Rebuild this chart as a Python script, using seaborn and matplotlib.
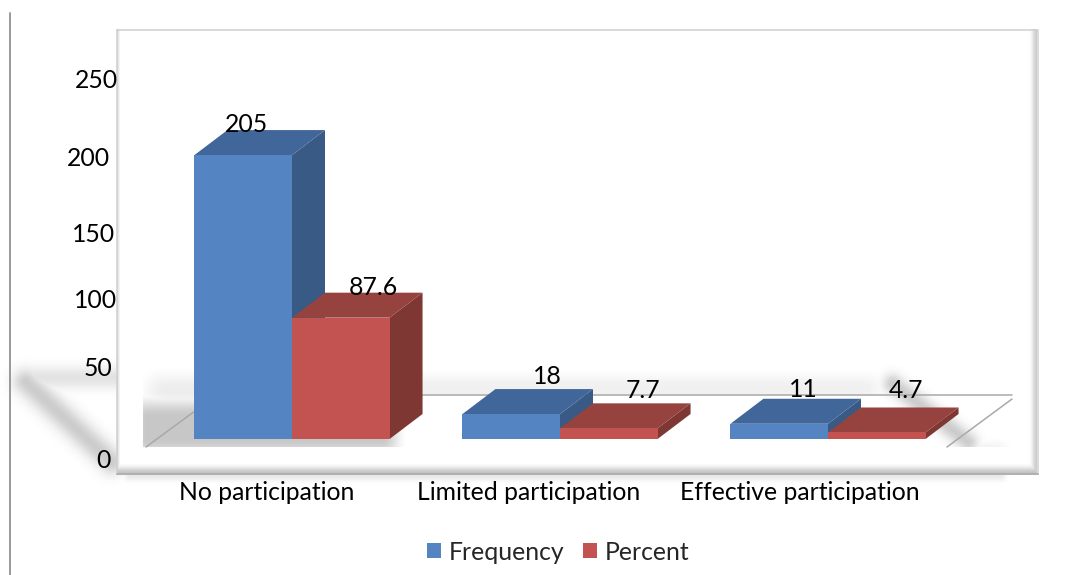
import numpy as np
import pandas as pd
import matplotlib
matplotlib.use("Agg")
import matplotlib.pyplot as plt
from matplotlib.patches import Polygon
from matplotlib.transforms import Affine2D
import seaborn as sns

# Survey results
categories = ["No participation", "Limited participation", "Effective participation"]
frequency = [205, 18, 11]
percent = [87.6, 7.7, 4.7]
series_names = ["Frequency", "Percent"]
y_tick_labels = ["250", "200", "150", "100", "50", "0"]

# Colours per series: front, top and side faces of each block
front_colors = ["#5484c1", "#c25351"]
top_colors = ["#41669a", "#96433f"]
side_colors = ["#385a84", "#7f3733"]

W, H = 1077, 575
ORIGIN_X, GROUP_STEP = 292.0, 268.0
BASE_Y, PX_PER_UNIT = 439.0, 1.385
DEPTH_X, DEPTH_Y = 33.0, 25.0
FONT_SIZE = 17.8

sns.set_theme(style="white")
plt.rcParams["font.family"] = ["Lato", "DejaVu Sans"]

df = pd.DataFrame({
    "category": categories * 2,
    "series": [series_names[0]] * 3 + [series_names[1]] * 3,
    "value": frequency + percent,
})

fig = plt.figure(figsize=(W / 100, H / 100), dpi=100, facecolor="white")
ax = fig.add_axes([0, 0, 1, 1])
sns.barplot(data=df, x="category", y="value", hue="series", order=categories,
            hue_order=series_names, palette=front_colors, saturation=1,
            width=0.728, gap=0, dodge=True, errorbar=None, linewidth=0, ax=ax)

xlim = (-ORIGIN_X / GROUP_STEP, (W - ORIGIN_X) / GROUP_STEP)
ylim = ((BASE_Y - H) / PX_PER_UNIT, BASE_Y / PX_PER_UNIT)

# Soft backdrop: frame bevel and the shadows thrown on and around it
yy, xx = np.mgrid[0:H, 0:W] + 0.5


def smooth(v, a, b):
    t = np.clip((v - a) / (b - a), 0, 1)
    return t * t * (3 - 2 * t)


def soft_segment(x0, y0, x1, y1, sigma, strength):
    dx, dy = x1 - x0, y1 - y0
    t = np.clip(((xx - x0) * dx + (yy - y0) * dy) / (dx * dx + dy * dy), 0, 1)
    d2 = (xx - x0 - t * dx) ** 2 + (yy - y0 - t * dy) ** 2
    return strength * np.exp(-d2 / (2 * sigma * sigma))


def soft_box(x0, x1, y0, y1, soft, strength):
    return (strength * smooth(xx, x0 - soft, x0 + soft) * (1 - smooth(xx, x1 - soft, x1 + soft))
            * smooth(yy, y0 - soft, y0 + soft) * (1 - smooth(yy, y1 - soft, y1 + soft)))


# Outside the frame
outer = np.maximum.reduce([
    soft_segment(26, 382, 112, 462, 9, 0.20),
    soft_segment(26, 378, 116, 378, 8, 0.11),
    soft_box(125, 1005, 470, 480, 5, 0.09),
])
inside = (xx > 117) & (xx < 1037) & (yy > 29) & (yy < 474)
plot_area = (xx > 143) & (xx < 1012) & (yy < 447.5)

# Inside the frame, limited to the plot wall and floor
above_floor = yy < 396
inner = np.maximum.reduce([
    soft_box(150, 880, 384, 394, 18, 0.12) * above_floor,
    soft_box(135, 395, 404, 452, 13, 0.22) * (yy < 447.5),
    soft_box(150, 400, 380, 400, 16, 0.09),
    soft_segment(893, 384, 968, 442, 7, 0.20) * (yy < 447.5),
    soft_box(960, 1005, 445, 455, 9, 0.07) * (yy < 447.5),
]) * plot_area
dark = np.where(inside, inner, outer)

# Bevel of the frame
bevel = np.maximum.reduce([
    0.24 * smooth(yy, 463, 474),
    0.20 * smooth(xx, 1029, 1037),
    0.14 * (1 - smooth(xx, 117, 121)),
])
dark = np.where(inside, np.maximum(dark, bevel), dark)

ax.imshow(1 - dark, cmap="gray", vmin=0, vmax=1, extent=(*xlim, *ylim),
          origin="upper", aspect="auto", interpolation="bilinear", zorder=0)
ax.set_xlim(*xlim)
ax.set_ylim(*ylim)
ax.axis("off")

# Pixel-based transform for the furniture around the plot
pix = Affine2D().scale(1, -1).translate(0, H)

# Page rule, frame outline, floor lines
ax.plot([10, 10], [13, 575], color="#919191", lw=1.3, transform=pix, zorder=1)
ax.plot([117, 1037.5, 1037.5, 117, 117], [29.5, 29.5, 474, 474, 29.5], color="#cfcfcf",
        lw=1.1, transform=pix, zorder=1)
ax.plot([117, 1037.5], [474, 474], color="#b0b0b0", lw=1.4, transform=pix, zorder=1)
ax.plot([390, 1012], [395, 395], color="#a9a9a9", lw=1.1, transform=pix, zorder=1)
ax.plot([146, 195], [447, 411], color="#a9a9a9", lw=1.1, transform=pix, zorder=1)
ax.plot([947, 1012], [447, 399], color="#a9a9a9", lw=1.1, transform=pix, zorder=1)

# Extrude each bar into a block: side and top faces come from the bar geometry
depth_x = DEPTH_X / GROUP_STEP
depth_y = DEPTH_Y / PX_PER_UNIT
bars = [c for container in ax.containers for c in container]
for i, bar in enumerate(bars):
    s = i // 3
    x0, x1 = bar.get_x(), bar.get_x() + bar.get_width()
    h = bar.get_height()
    z = 3 + s * 0.2
    ax.add_patch(Polygon([(x1, 0), (x1 + depth_x, depth_y), (x1 + depth_x, h + depth_y), (x1, h)],
                         closed=True, fc=side_colors[s], ec="none", zorder=z))
    ax.add_patch(Polygon([(x0, h), (x0 + depth_x, h + depth_y), (x1 + depth_x, h + depth_y), (x1, h)],
                         closed=True, fc=top_colors[s], ec="none", zorder=z))
    bar.set_edgecolor("none")
    bar.set_zorder(z + 0.1)

# Value labels, set above and behind each block (pixel offsets from the bar top)
label_offsets = [(3, 31), (36, 38), (24, 34), (33, 30), (34, 38), (29, 42)]
values = frequency + percent
for i, bar in enumerate(bars):
    dx, dy = label_offsets[i]
    ax.annotate(f"{values[i]:g}", xy=(bar.get_x() + bar.get_width() / 2, bar.get_height()),
                xytext=(dx * 0.72, dy * 0.72), textcoords="offset points", ha="center",
                va="center", fontsize=FONT_SIZE, color="black", zorder=6)

# Axis text
tick_positions = [(96, 81), (88, 158), (94, 234), (96, 300), (98, 369), (103, 460)]
for label, (x, y) in zip(y_tick_labels, tick_positions):
    ax.text(x, y, label, transform=pix, ha="center", va="center", fontsize=FONT_SIZE,
            color="black", zorder=6)

category_positions = [267, 529, 800]
for label, x in zip(categories, category_positions):
    ax.text(x, 493, label, transform=pix, ha="center", va="center", fontsize=FONT_SIZE,
            color="black", zorder=6)

# Legend along the bottom
sns.move_legend(ax, "center", bbox_to_anchor=(558 / W, 1 - 552 / H), ncol=2, frameon=False,
                title=None, fontsize=FONT_SIZE, handlelength=0.58, handleheight=0.58,
                handletextpad=0.3, columnspacing=0.75, borderpad=0)

fig.savefig("out.png", dpi=100, facecolor="white")
